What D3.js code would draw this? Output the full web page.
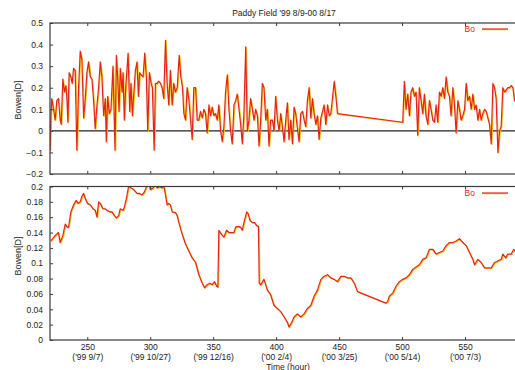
<!DOCTYPE html>
<html>
<head>
<meta charset="utf-8">
<script src="https://cdn.jsdelivr.net/npm/d3@7"></script>
<style>
  html, body { margin: 0; padding: 0; background: #ffffff; overflow: hidden; }
  svg { display: block; font-family: "Liberation Sans", Arial, Helvetica, sans-serif; }
</style>
</head>
<body>
<svg id="chart" width="515" height="370"></svg>
<script>
// Bowen ratio (daytime) over a paddy field, '99 8/9 - '00 8/17
const titleText = "Paddy Field '99 8/9-00 8/17";
const seriesName = "Bo";
const yLabel = "Bowen[D]";
const xLabel = "Time (hour)";

const xTicks = [250, 300, 350, 400, 450, 500, 550];
const xTickDates = ["('99 9/7)", "('99 10/27)", "('99 12/16)", "('00 2/4)", "('00 3/25)", "('00 5/14)", "('00 7/3)"];
const topYTicks = [0.5, 0.4, 0.3, 0.2, 0.1, 0, -0.1, -0.2];
const bottomYTicks = [0.2, 0.18, 0.16, 0.14, 0.12, 0.1, 0.08, 0.06, 0.04, 0.02, 0];

// Daily Bowen ratio [hour, value]
const dailyBowen = [
  [220.4,-0.09],[221.2,0.08],[221.8,0.15],[223.2,0.10],[224.5,0.05],[225.8,0.14],[227.1,0.15],[228.5,0.05],[229.3,0.03],[230.6,0.24],
  [231.9,0.18],[233.0,0.21],[233.8,0.15],[234.6,0.04],[235.6,0.27],[237.0,0.25],[238.0,0.22],[239.1,0.29],[240.4,0.28],[241.7,-0.09],
  [243.1,0.20],[244.4,0.37],[245.7,0.33],[247.1,0.06],[248.4,0.15],[249.7,0.27],[251.0,0.32],[252.4,0.25],[253.7,0.24],[255.0,0.14],
  [256.3,0.01],[257.7,0.12],[259.0,0.20],[260.3,0.32],[261.6,0.25],[263.0,0.07],[264.3,0.15],[265.1,-0.05],[266.2,0.16],[267.5,0.08],
  [268.8,0.10],[270.4,0.30],[272.0,-0.09],[273.1,0.35],[274.1,0.25],[275.2,0.09],[276.2,0.29],[277.6,0.18],[278.4,0.27],[279.4,0.05],
  [280.5,0.20],[282.4,0.36],[283.7,0.09],[284.7,0.22],[285.8,0.07],[286.9,0.17],[288.2,0.28],[289.5,0.32],[290.6,0.16],[291.6,0.27],
  [292.7,0.26],[294.3,0.25],[295.6,0.36],[296.9,0.25],[298.0,0.00],[299.3,0.27],[300.7,0.22],[301.7,0.20],[303.1,-0.09],[304.1,0.22],
  [305.4,0.22],[306.8,0.23],[308.1,0.22],[309.4,0.20],[310.7,0.15],[312.1,0.42],[313.4,0.22],[314.7,0.12],[316.0,0.28],[317.4,0.12],
  [318.7,0.22],[320.0,0.18],[321.4,0.20],[323.0,0.35],[324.3,0.25],[325.6,0.20],[326.7,0.08],[328.0,0.05],[329.3,0.20],[330.6,0.15],
  [332.0,0.05],[333.3,-0.04],[334.6,0.20],[336.0,0.20],[337.3,0.05],[338.6,0.05],[339.9,0.09],[341.3,0.06],[342.6,0.10],[343.9,0.08],
  [345.2,-0.01],[346.6,0.12],[347.9,0.07],[349.2,0.11],[350.6,0.07],[351.9,0.08],[353.2,0.05],[354.5,0.12],[355.9,0.00],[357.2,-0.05],
  [358.5,0.02],[359.8,0.18],[361.2,0.26],[362.5,0.10],[363.8,0.00],[365.1,-0.06],[366.5,0.12],[367.8,0.14],[369.1,0.17],[370.5,0.10],
  [371.8,0.03],[373.1,-0.06],[374.4,0.08],[375.8,0.39],[377.1,0.00],[378.4,0.05],[379.7,0.15],[381.1,0.10],[382.4,0.05],[383.7,0.10],
  [385.1,0.07],[386.4,-0.07],[387.7,0.05],[389.0,0.22],[390.3,0.20],[391.7,0.05],[393.0,0.10],[394.3,-0.07],[395.6,0.05],[397.0,0.05],
  [398.3,0.00],[399.6,0.16],[401.0,0.05],[402.3,0.00],[403.6,0.08],[404.9,0.02],[406.3,-0.05],[407.6,0.05],[408.9,0.13],[410.2,-0.04],
  [411.6,0.05],[412.9,-0.06],[414.2,0.11],[415.5,0.08],[416.9,0.01],[418.2,-0.05],[419.5,0.08],[420.9,0.09],[422.2,0.05],[423.5,0.02],
  [424.8,0.14],[426.2,0.20],[427.5,0.06],[428.8,0.15],[430.1,0.08],[431.5,0.03],[432.8,0.07],[434.1,-0.04],[435.5,0.06],[436.8,0.09],
  [438.1,0.12],[439.4,0.03],[440.8,0.12],[442.1,0.07],[443.4,0.08],[444.7,0.15],[446.1,0.23],[447.4,0.16],[448.7,0.08],[500.5,0.04],
  [501.8,0.23],[503.1,0.10],[504.5,0.17],[505.8,0.07],[507.1,0.18],[508.4,0.20],[509.8,0.16],[511.1,0.18],[512.4,-0.02],[513.7,0.20],
  [515.1,0.14],[516.4,0.08],[517.7,0.17],[519.0,0.07],[520.4,0.03],[521.7,0.14],[523.0,0.10],[524.4,0.05],[525.7,0.04],[527.0,0.12],
  [528.3,0.04],[529.7,0.18],[531.0,0.16],[532.3,0.20],[533.6,0.15],[535.0,0.25],[536.3,0.18],[537.6,0.16],[538.9,0.07],[540.3,0.20],
  [541.6,0.12],[542.9,-0.01],[544.3,0.14],[545.6,0.10],[546.9,0.05],[548.2,0.07],[549.6,0.10],[550.9,0.22],[552.2,0.14],[553.5,0.16],
  [554.9,0.10],[556.2,0.17],[557.5,0.10],[558.8,0.12],[560.2,0.05],[561.5,0.10],[562.8,0.05],[564.1,0.08],[565.5,0.10],[566.8,0.09],
  [568.1,0.06],[569.4,0.03],[570.8,-0.06],[572.1,0.22],[573.4,0.20],[574.7,0.15],[576.1,-0.10],[577.4,0.00],[578.7,0.02],[580.0,0.20],
  [581.4,0.18],[582.7,0.19],[584.0,0.20],[585.3,0.20],[586.7,0.21],[588.0,0.20],[589.3,0.14],[590.6,0.13]
];

// Running mean of the Bowen ratio [hour, value]
const meanBowen = [
  [221.0,0.129],[224.5,0.136],[227.1,0.140],[228.5,0.127],[230.6,0.136],[232.5,0.151],[234.0,0.147],[235.1,0.147],[237.0,0.167],[239.1,0.176],
  [241.2,0.182],[242.5,0.178],[244.4,0.180],[245.7,0.187],[247.1,0.191],[248.4,0.184],[250.2,0.178],[252.4,0.176],[254.5,0.171],[256.3,0.169],
  [257.7,0.160],[259.0,0.180],[260.3,0.178],[262.4,0.171],[264.3,0.171],[265.6,0.169],[267.7,0.167],[269.6,0.167],[271.5,0.162],[273.1,0.159],
  [274.9,0.162],[276.2,0.171],[278.4,0.169],[279.4,0.173],[281.0,0.184],[282.9,0.201],[284.7,0.198],[286.9,0.196],[289.5,0.191],[291.6,0.191],
  [293.5,0.189],[295.4,0.193],[297.5,0.202],[299.1,0.204],[300.1,0.196],[302.3,0.198],[304.1,0.204],[305.4,0.198],[307.6,0.200],[309.4,0.198],
  [310.7,0.202],[312.1,0.189],[313.4,0.176],[314.7,0.178],[316.0,0.176],[317.4,0.167],[320.0,0.166],[321.4,0.162],[322.7,0.153],[325.3,0.138],
  [328.0,0.125],[330.6,0.116],[333.3,0.107],[336.0,0.101],[338.6,0.085],[341.3,0.074],[343.1,0.068],[345.2,0.072],[347.4,0.074],[349.2,0.072],
  [351.1,0.076],[352.7,0.070],[353.7,0.069],[354.5,0.143],[356.4,0.138],[358.5,0.134],[360.6,0.143],[362.5,0.140],[364.4,0.140],[366.5,0.140],
  [367.8,0.147],[369.7,0.148],[371.8,0.147],[373.1,0.143],[374.4,0.153],[376.6,0.167],[377.6,0.165],[379.2,0.156],[381.1,0.153],[382.9,0.153],
  [384.5,0.149],[385.9,0.148],[386.6,0.074],[387.7,0.072],[390.3,0.079],[393.0,0.065],[395.6,0.059],[398.3,0.045],[401.0,0.041],[403.6,0.037],
  [406.3,0.030],[408.9,0.023],[410.2,0.017],[412.4,0.023],[414.2,0.030],[416.9,0.034],[419.5,0.030],[422.2,0.034],[424.8,0.041],[427.5,0.045],
  [430.1,0.057],[432.8,0.065],[435.5,0.079],[438.1,0.083],[440.8,0.085],[443.4,0.081],[446.1,0.079],[448.7,0.076],[451.4,0.083],[454.0,0.083],
  [456.7,0.081],[459.3,0.081],[462.0,0.074],[464.6,0.063],[487.2,0.048],[488.5,0.050],[489.9,0.057],[492.5,0.061],[495.2,0.070],[497.8,0.076],
  [500.5,0.079],[503.1,0.081],[505.8,0.085],[508.4,0.092],[511.1,0.095],[513.7,0.098],[516.4,0.105],[519.0,0.107],[521.7,0.118],[524.4,0.118],
  [527.0,0.112],[529.7,0.114],[532.3,0.116],[535.0,0.123],[537.6,0.127],[540.3,0.127],[542.9,0.129],[545.6,0.132],[548.2,0.127],[550.9,0.123],
  [553.5,0.114],[556.2,0.105],[557.5,0.098],[560.2,0.105],[562.8,0.101],[565.5,0.094],[568.1,0.094],[570.8,0.094],[573.4,0.101],[576.1,0.103],
  [578.7,0.105],[580.0,0.112],[582.2,0.107],[584.0,0.112],[586.7,0.112],[588.6,0.118],[590.6,0.114]
];

const svg = d3.select("#chart");
const frameColor = "#3a3a3a";
const textColor = "#222";
const lineRed = "#e3241b";
const lineYellow = "#f7c81e";
const plotLeft = 50, plotRight = 528;
const tickFont = "'Liberation Sans', Arial, sans-serif";

const x = d3.scaleLinear().domain([220.4, 600]).range([plotLeft, plotRight]);

const panels = [
  { id: "top", data: dailyBowen, yDomain: [-0.2, 0.5], yRange: [174, 23], yTicks: topYTicks,
    fmt: d => (d === 0 ? "0" : d3.format(".1f")(d)), zero: true, labelY: 100, xLabels: false, legendY: 29 },
  { id: "bottom", data: meanBowen, yDomain: [0, 0.2], yRange: [340, 186.5], yTicks: bottomYTicks,
    fmt: d => (d === 0 ? "0" : (d === 0.1 || d === 0.2) ? d3.format(".1f")(d) : d3.format(".2f")(d)), zero: false, labelY: 256, xLabels: true, legendY: 193 }
];

// Title
svg.append("text")
  .attr("x", 284).attr("y", 16)
  .attr("text-anchor", "middle")
  .attr("font-size", 8.5).attr("fill", textColor)
  .text(titleText);

panels.forEach(p => {
  const y = d3.scaleLinear().domain(p.yDomain).range(p.yRange);
  const top = p.yRange[1], bottom = p.yRange[0];
  const g = svg.append("g");

  g.append("clipPath").attr("id", "clip-" + p.id)
    .append("rect")
    .attr("x", plotLeft).attr("y", top)
    .attr("width", plotRight - plotLeft).attr("height", bottom - top);

  // zero reference line
  if (p.zero) {
    g.append("line")
      .attr("x1", plotLeft).attr("x2", plotRight)
      .attr("y1", y(0)).attr("y2", y(0))
      .attr("stroke", "#222").attr("stroke-width", 1.1);
  }

  const line = d3.line().x(d => x(d[0])).y(d => y(d[1]));
  const series = g.append("g").attr("clip-path", `url(#clip-${p.id})`);
  series.append("path")
    .datum(p.data)
    .attr("d", line)
    .attr("transform", "translate(0.8,0.7)")
    .attr("fill", "none").attr("stroke", lineYellow)
    .attr("stroke-width", 1.1).attr("stroke-linejoin", "round");
  series.append("path")
    .datum(p.data)
    .attr("d", line)
    .attr("fill", "none").attr("stroke", lineRed)
    .attr("stroke-width", 1.2).attr("stroke-linejoin", "round");

  // frame
  g.append("rect")
    .attr("x", plotLeft).attr("y", top)
    .attr("width", plotRight - plotLeft).attr("height", bottom - top)
    .attr("fill", "none").attr("stroke", frameColor).attr("stroke-width", 1.2);

  // left axis (inward ticks)
  const yAxis = d3.axisLeft(y).tickValues(p.yTicks).tickFormat(p.fmt)
    .tickSizeInner(-3).tickSizeOuter(0).tickPadding(7);
  const ya = g.append("g").attr("transform", `translate(${plotLeft},0)`).call(yAxis);
  ya.select(".domain").remove();
  ya.selectAll(".tick line").attr("stroke", frameColor);
  ya.selectAll(".tick text").attr("font-size", 8.5).attr("fill", textColor)
    .attr("font-family", tickFont);

  // bottom and top axes (inward ticks)
  const xb = d3.axisBottom(x).tickValues(xTicks).tickSizeInner(-3).tickSizeOuter(0)
    .tickFormat(p.xLabels ? d3.format("d") : () => "").tickPadding(4);
  const xa = g.append("g").attr("transform", `translate(0,${bottom})`).call(xb);
  xa.select(".domain").remove();
  xa.selectAll(".tick line").attr("stroke", frameColor);
  xa.selectAll(".tick text").attr("font-size", 8.5).attr("fill", textColor)
    .attr("font-family", tickFont);
  if (p.xLabels) {
    xa.selectAll(".tick").append("text")
      .attr("y", 13.5).attr("dy", "0.71em")
      .attr("text-anchor", "middle")
      .attr("font-size", 8.5).attr("fill", textColor)
      .attr("font-family", tickFont)
      .text((d, i) => xTickDates[i]);
  }
  const xt = d3.axisTop(x).tickValues(xTicks).tickSizeInner(-3).tickSizeOuter(0).tickFormat(() => "");
  const xta = g.append("g").attr("transform", `translate(0,${top})`).call(xt);
  xta.select(".domain").remove();
  xta.selectAll(".tick line").attr("stroke", frameColor);

  // y label
  g.append("text")
    .attr("transform", `translate(21,${p.labelY}) rotate(-90)`)
    .attr("text-anchor", "middle")
    .attr("font-size", 9).attr("fill", textColor)
    .text(yLabel);

  // legend
  g.append("text")
    .attr("x", 475).attr("y", p.legendY + 3)
    .attr("text-anchor", "end")
    .attr("font-size", 8.5).attr("fill", lineRed)
    .text(seriesName);
  g.append("line")
    .attr("x1", 482).attr("x2", 508).attr("y1", p.legendY + 0.7).attr("y2", p.legendY + 0.7)
    .attr("stroke", lineYellow).attr("stroke-width", 1.1);
  g.append("line")
    .attr("x1", 482).attr("x2", 508).attr("y1", p.legendY).attr("y2", p.legendY)
    .attr("stroke", lineRed).attr("stroke-width", 1.2);
});

// x label
svg.append("text")
  .attr("x", 288).attr("y", 369.5)
  .attr("text-anchor", "middle")
  .attr("font-size", 8.5).attr("fill", textColor)
  .text(xLabel);
</script>
</body>
</html>
